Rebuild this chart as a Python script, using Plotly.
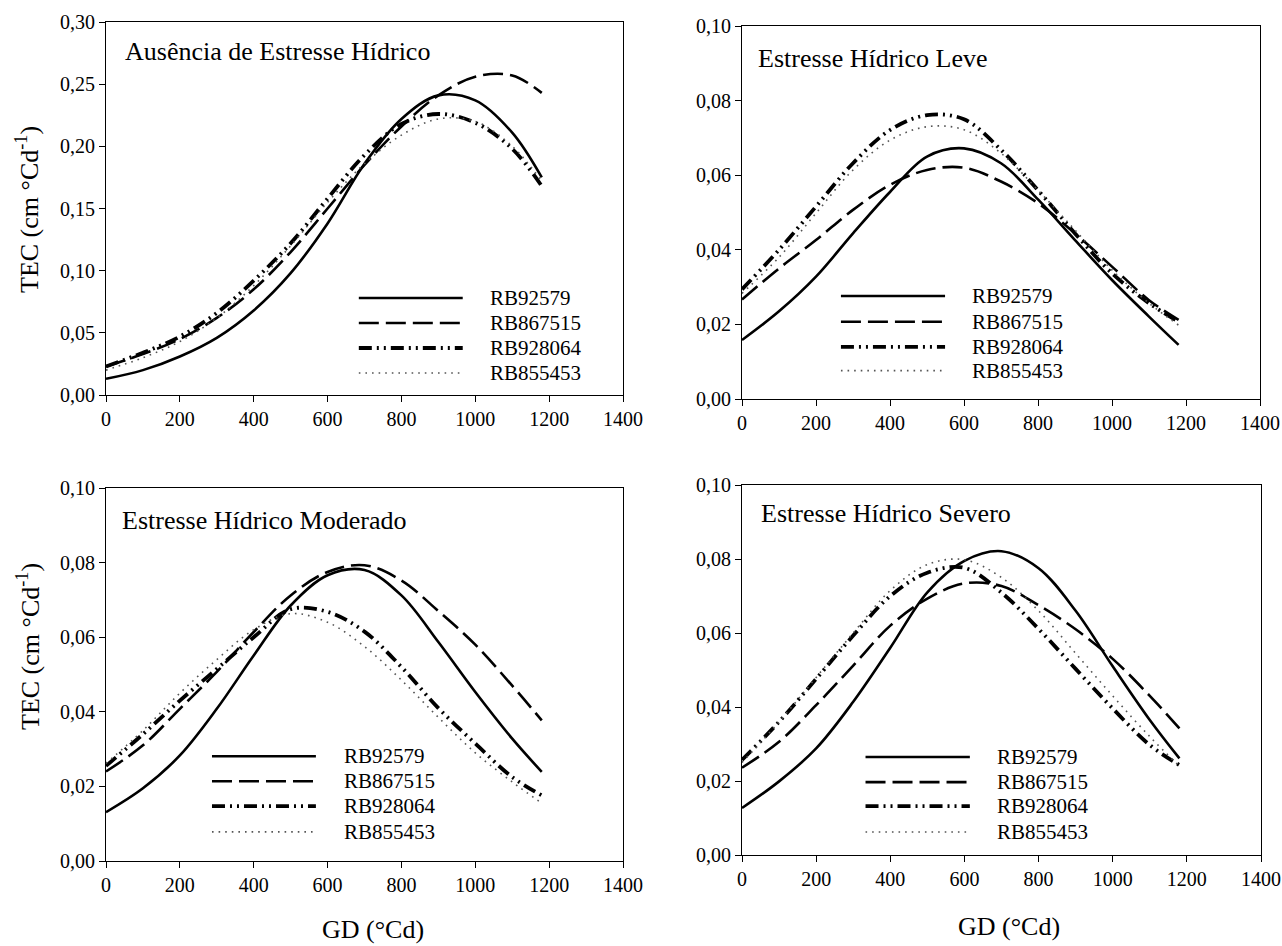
import plotly.graph_objects as go

# ---------------- data ----------------
GD = [0, 100, 200, 300, 400, 500, 600, 700, 800, 900, 1000, 1100, 1180]

cultivars = ["RB92579", "RB867515", "RB928064", "RB855453"]

# Ausência de Estresse Hídrico
aus_RB92579 = [0.013, 0.020, 0.031, 0.046, 0.068, 0.098, 0.138, 0.186, 0.222, 0.241, 0.237, 0.211, 0.175]
aus_RB867515 = [0.023, 0.033, 0.045, 0.062, 0.085, 0.115, 0.150, 0.185, 0.216, 0.241, 0.256, 0.257, 0.243]
aus_RB928064 = [0.023, 0.034, 0.047, 0.066, 0.092, 0.122, 0.158, 0.193, 0.218, 0.226, 0.219, 0.198, 0.168]
aus_RB855453 = [0.020, 0.030, 0.043, 0.062, 0.088, 0.120, 0.155, 0.186, 0.209, 0.222, 0.220, 0.200, 0.172]

# Estresse Hídrico Leve
lev_RB92579 = [0.0158, 0.0235, 0.0328, 0.0444, 0.0555, 0.0650, 0.0672, 0.0632, 0.0535, 0.0426, 0.0319, 0.0221, 0.0145]
lev_RB867515 = [0.0267, 0.0350, 0.0426, 0.0507, 0.0574, 0.0614, 0.0620, 0.0583, 0.0525, 0.0444, 0.0355, 0.0265, 0.0212]
lev_RB928064 = [0.0294, 0.0400, 0.0516, 0.0632, 0.0721, 0.0761, 0.0750, 0.0668, 0.0560, 0.0444, 0.0337, 0.0257, 0.0207]
lev_RB855453 = [0.0283, 0.0380, 0.0498, 0.0614, 0.0694, 0.0730, 0.0722, 0.0659, 0.0560, 0.0453, 0.0346, 0.0257, 0.0198]

# Estresse Hídrico Moderado
mod_RB92579 = [0.0131, 0.0195, 0.0283, 0.0408, 0.0551, 0.0685, 0.0766, 0.0780, 0.0712, 0.0587, 0.0453, 0.0328, 0.0239]
mod_RB867515 = [0.0240, 0.0310, 0.0408, 0.0507, 0.0614, 0.0712, 0.0775, 0.0793, 0.0752, 0.0670, 0.0580, 0.0470, 0.0377]
mod_RB928064 = [0.0255, 0.0340, 0.0430, 0.0515, 0.0600, 0.0675, 0.0668, 0.0615, 0.0520, 0.0410, 0.0315, 0.0225, 0.0176]
mod_RB855453 = [0.0262, 0.0350, 0.0450, 0.0540, 0.0620, 0.0663, 0.0640, 0.0575, 0.0485, 0.0385, 0.0290, 0.0212, 0.0155]

# Estresse Hídrico Severo
sev_RB92579 = [0.0127, 0.0199, 0.0288, 0.0414, 0.0560, 0.0710, 0.0795, 0.0821, 0.0775, 0.0660, 0.0510, 0.0365, 0.0261]
sev_RB867515 = [0.0236, 0.0306, 0.0405, 0.0512, 0.0620, 0.0693, 0.0734, 0.0727, 0.0675, 0.0610, 0.0530, 0.0430, 0.0342]
sev_RB928064 = [0.0257, 0.0360, 0.0476, 0.0593, 0.0700, 0.0763, 0.0776, 0.0709, 0.0611, 0.0503, 0.0396, 0.0297, 0.0243]
sev_RB855453 = [0.0250, 0.0360, 0.0480, 0.0600, 0.0715, 0.0785, 0.0798, 0.0750, 0.0660, 0.0545, 0.0430, 0.0320, 0.0240]

panel_titles = ["Ausência de Estresse Hídrico", "Estresse Hídrico Leve",
                "Estresse Hídrico Moderado", "Estresse Hídrico Severo"]

x_tickvals = [0, 200, 400, 600, 800, 1000, 1200, 1400]
x_ticktext = ["0", "200", "400", "600", "800", "1000", "1200", "1400"]
y1_tickvals = [0.00, 0.05, 0.10, 0.15, 0.20, 0.25, 0.30]
y1_ticktext = ["0,00", "0,05", "0,10", "0,15", "0,20", "0,25", "0,30"]
y2_tickvals = [0.00, 0.02, 0.04, 0.06, 0.08, 0.10]
y2_ticktext = ["0,00", "0,02", "0,04", "0,06", "0,08", "0,10"]

y_title = "TEC (cm °Cd<sup>-1</sup>)"
x_title = "GD (°Cd)"

# ---------------- styling ----------------
W, H = 1282, 946
FONT = "Liberation Serif"

styles = {
    "RB92579": dict(color="black", width=2.6, dash="solid"),
    "RB867515": dict(color="black", width=2.6, dash="20px,7px"),
    "RB928064": dict(color="black", width=3.8, dash="13px,5px,2px,5px,2px,5px"),
    "RB855453": dict(color="#555555", width=1.6, dash="1.6px,5px"),
}

panels = [
    dict(series=[aus_RB92579, aus_RB867515, aus_RB928064, aus_RB855453],
         px=(106, 623), py=(22, 395), yticks=(y1_tickvals, y1_ticktext), yr=0.30,
         title_pos=(0.033, 0.922), leg=dict(x0=0.489, x1=0.690, xt=0.739, ys=[0.260, 0.193, 0.126, 0.059])),
    dict(series=[lev_RB92579, lev_RB867515, lev_RB928064, lev_RB855453],
         px=(742, 1260), py=(26, 399), yticks=(y2_tickvals, y2_ticktext), yr=0.10,
         title_pos=(0.027, 0.912), leg=dict(x0=0.191, x1=0.392, xt=0.440, ys=[0.276, 0.207, 0.140, 0.076])),
    dict(series=[mod_RB92579, mod_RB867515, mod_RB928064, mod_RB855453],
         px=(106, 623), py=(488, 861), yticks=(y2_tickvals, y2_ticktext), yr=0.10,
         title_pos=(0.027, 0.914), leg=dict(x0=0.205, x1=0.406, xt=0.456, ys=[0.281, 0.214, 0.147, 0.078])),
    dict(series=[sev_RB92579, sev_RB867515, sev_RB928064, sev_RB855453],
         px=(742, 1261), py=(485, 855), yticks=(y2_tickvals, y2_ticktext), yr=0.10,
         title_pos=(0.032, 0.922), leg=dict(x0=0.238, x1=0.439, xt=0.487, ys=[0.265, 0.197, 0.132, 0.062])),
]

fig = go.Figure()
layout = dict(template="none", width=W, height=H, margin=dict(l=0, r=0, t=0, b=0, pad=0),
              paper_bgcolor="white", plot_bgcolor="white", showlegend=False,
              font=dict(family=FONT, size=20, color="black"))
shapes = []
annotations = []

for i, p in enumerate(panels):
    n = "" if i == 0 else str(i + 1)
    xa, ya = "x" + n, "y" + n
    for name, vals in zip(cultivars, p["series"]):
        fig.add_trace(go.Scatter(x=GD, y=vals, mode="lines", name=name,
                                 line=dict(shape="spline", smoothing=1.0, **styles[name]),
                                 xaxis=xa, yaxis=ya, hoverinfo="skip"))
    xd = [p["px"][0] / W, p["px"][1] / W]
    yd = [1 - p["py"][1] / H, 1 - p["py"][0] / H]
    common = dict(showgrid=False, zeroline=False, showline=True, linecolor="black",
                  linewidth=1, mirror=True, ticks="outside", ticklen=6, tickwidth=1,
                  tickcolor="black", automargin=False,
                  tickfont=dict(family=FONT, size=20, color="black"))
    layout["xaxis" + n] = dict(domain=xd, range=[0, 1400], tickmode="array",
                               tickvals=x_tickvals, ticktext=x_ticktext,
                               anchor=ya, **common)
    layout["yaxis" + n] = dict(domain=yd, range=[0, p["yr"]], tickmode="array",
                               tickvals=p["yticks"][0], ticktext=p["yticks"][1],
                               anchor=xa, **common)
    # panel title
    annotations.append(dict(text=panel_titles[i], xref=xa + " domain", yref=ya + " domain",
                            x=p["title_pos"][0], y=p["title_pos"][1], xanchor="left",
                            yanchor="middle", showarrow=False,
                            font=dict(family=FONT, size=26, color="black")))
    # legend (line samples + labels)
    lg = p["leg"]
    for name, yy in zip(cultivars, lg["ys"]):
        st = styles[name]
        shapes.append(dict(type="line", xref=xa + " domain", yref=ya + " domain",
                           x0=lg["x0"], x1=lg["x1"], y0=yy, y1=yy,
                           line=dict(color=st["color"], width=st["width"], dash=st["dash"])))
        annotations.append(dict(text=name, xref=xa + " domain", yref=ya + " domain",
                                x=lg["xt"], y=yy, xanchor="left", yanchor="middle",
                                showarrow=False, font=dict(family=FONT, size=21, color="black")))

# axis titles
annotations.append(dict(text=y_title, xref="paper", yref="paper", x=28 / W, y=1 - 210 / H,
                        textangle=-90, showarrow=False, xanchor="center", yanchor="middle",
                        font=dict(family=FONT, size=26, color="black")))
annotations.append(dict(text=y_title, xref="paper", yref="paper", x=28 / W, y=1 - 647 / H,
                        textangle=-90, showarrow=False, xanchor="center", yanchor="middle",
                        font=dict(family=FONT, size=26, color="black")))
annotations.append(dict(text=x_title, xref="paper", yref="paper", x=373 / W, y=1 - 929 / H,
                        showarrow=False, xanchor="center", yanchor="middle",
                        font=dict(family=FONT, size=26, color="black")))
annotations.append(dict(text=x_title, xref="paper", yref="paper", x=1009 / W, y=1 - 926 / H,
                        showarrow=False, xanchor="center", yanchor="middle",
                        font=dict(family=FONT, size=26, color="black")))

layout["shapes"] = shapes
layout["annotations"] = annotations
fig.update_layout(**layout)

# remove the default page margin so the figure sits at the window's top-left corner
page_fix = ("document.documentElement.style.margin='0';document.body.style.margin='0';"
            "document.body.style.overflow='hidden';")
fig.write_html("out.html", post_script=page_fix, config={"displayModeBar": False})
